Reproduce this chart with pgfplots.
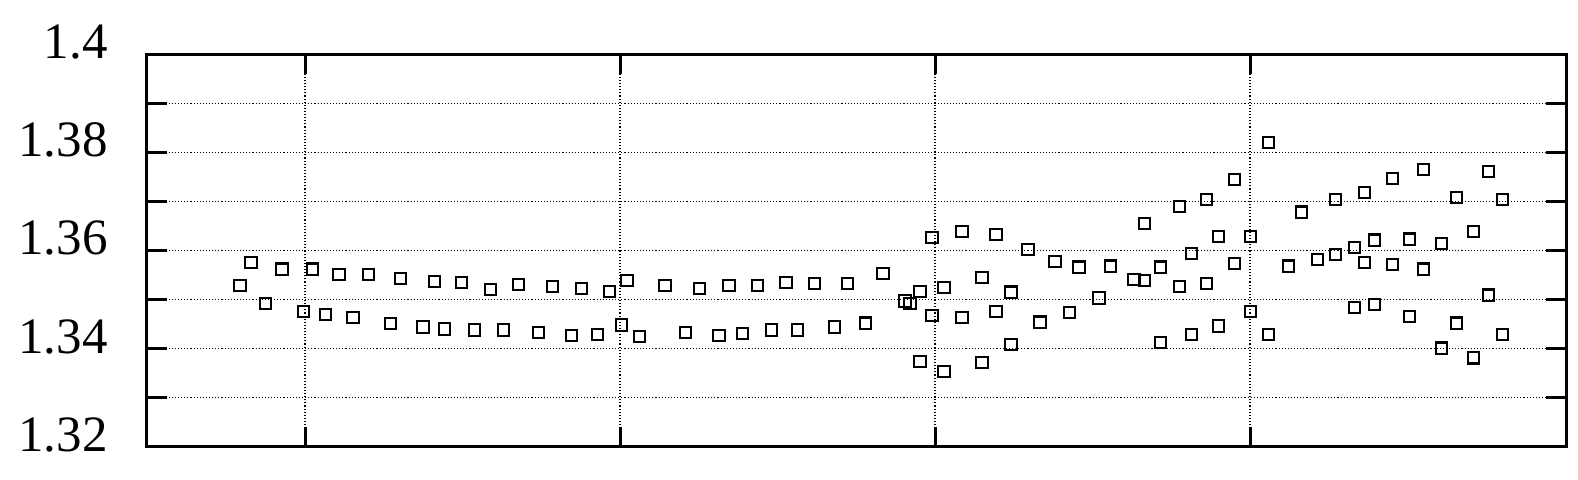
\documentclass[border=0pt]{standalone}
\usepackage{pgfplots}
\pgfplotsset{compat=1.18}
\usepackage{fontspec}
\setmainfont{Liberation Serif}
\begin{document}
\begin{tikzpicture}
\begin{axis}[
  scale only axis,
  width=709.5pt, height=196.4pt,
  xmin=147, xmax=1566,
  ymin=1.32, ymax=1.40,
  xtick={305,620,935,1250},
  xticklabels={},
  ytick={1.32,1.33,1.34,1.35,1.36,1.37,1.38,1.39,1.40},
  yticklabels={1.32,,1.34,,1.36,,1.38,,1.4},
  tick align=inside,
  major tick length=10pt,
  every tick/.style={line width=1.5pt, black},
  axis line style={line width=1.5pt},
  grid=major,
  major grid style={line width=0.55pt, black, dash pattern=on 0.55pt off 1pt},
  yticklabel style={anchor=east, inner sep=0pt, xshift=-19.5pt, yshift=6pt, font=\fontsize{25.5}{30}\selectfont},
  /pgf/number format/assume math mode=true,
]
\addplot[only marks, mark=square, mark size=2.8pt, mark options={line width=1.05pt, black, fill=none}] coordinates {
(240,1.3529) (251,1.3576) (265.7,1.3492) (282,1.3562) (303.7,1.3476)
(312.7,1.3562) (325.7,1.3469) (339,1.3551) (353,1.3464) (368.7,1.3551)
(390.7,1.3451) (400.7,1.3543) (423,1.3444) (434.7,1.3537) (444.7,1.3440)
(461.7,1.3535) (474.7,1.3438) (490.7,1.3521) (503.7,1.3438) (518.7,1.3531)
(538.7,1.3433) (552.7,1.3527) (571.7,1.3427) (581.7,1.3523) (597.7,1.3429)
(609.7,1.3517) (621.7,1.3448) (627,1.3539) (639.7,1.3425) (665,1.3529)
(685.7,1.3433) (699.7,1.3523) (719,1.3427) (729,1.3529) (742.7,1.3431)
(757.7,1.3529) (771.7,1.3438) (786,1.3535) (797.7,1.3438) (814.7,1.3533)
(834.7,1.3444) (847.7,1.3533) (865.7,1.3452) (883,1.3553) (905,1.3497)
(910,1.3492) (920,1.3517) (920,1.3374) (932,1.3627) (932,1.3468)
(944,1.3525) (944,1.3354) (962,1.3639) (962,1.3464) (982,1.3545)
(982,1.3372) (996,1.3633) (996,1.3476) (1011,1.3515) (1011,1.3408)
(1028,1.3602) (1040,1.3454) (1055,1.3578) (1069.7,1.3474) (1079,1.3566)
(1099,1.3503) (1110.7,1.3568) (1134,1.3541) (1144.7,1.3655) (1144.7,1.3539)
(1160.7,1.3566) (1160.7,1.3413) (1179.7,1.3690) (1179.7,1.3527) (1191.7,1.3594)
(1191.7,1.3429) (1206.7,1.3704) (1206.7,1.3533) (1218.7,1.3629) (1218.7,1.3446)
(1234.7,1.3745) (1234.7,1.3574) (1250.7,1.3629) (1250.7,1.3476) (1268.7,1.3820)
(1268.7,1.3429) (1288.7,1.3568) (1301.7,1.3678) (1317.7,1.3582) (1335.7,1.3704)
(1335.7,1.3592) (1354.7,1.3606) (1354.7,1.3484) (1364.7,1.3718) (1364.7,1.3576)
(1374.7,1.3621) (1374.7,1.3490) (1392.7,1.3747) (1392.7,1.3572) (1409.7,1.3623)
(1409.7,1.3466) (1423.7,1.3765) (1423.7,1.3562) (1441.7,1.3614) (1441.7,1.3401)
(1456.7,1.3708) (1456.7,1.3452) (1473.7,1.3639) (1473.7,1.3381) (1488.7,1.3761)
(1488.7,1.3509) (1502.7,1.3704) (1502.7,1.3429)
};
\coordinate (bbl) at (axis cs:0,1.31339);
\coordinate (btr) at (axis cs:1578,1.4110);
\end{axis}
\pgfresetboundingbox
\path (bbl) rectangle (btr);
\end{tikzpicture}
\end{document}
